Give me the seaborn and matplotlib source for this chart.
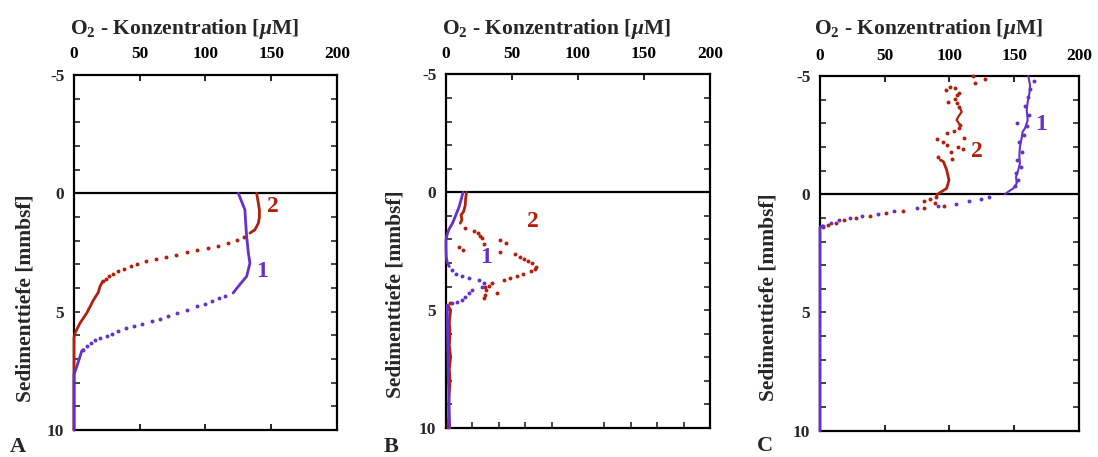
import glob
import numpy as np
import pandas as pd
import matplotlib
matplotlib.use("Agg")
import matplotlib.pyplot as plt
from matplotlib import font_manager as fm
import seaborn as sns

# ---------------- data (O2 concentration in µM vs. sediment depth in mm) ----------------
# Panel A
A2_line1_depth = [0, 0.35, 0.7, 1.0, 1.26, 1.54, 1.68]
A2_line1_conc = [138.9, 140, 141, 141, 140.2, 137.6, 133.8]
A2_dot_depth = [1.86, 1.99, 2.10, 2.22, 2.31, 2.38, 2.48, 2.59, 2.69, 2.78, 2.88, 2.99,
                3.09, 3.20, 3.30, 3.41, 3.51, 3.62, 3.72]
A2_dot_conc = [129.5, 123.7, 117.4, 109.7, 102.1, 93.8, 85.7, 77.6, 69.7, 62.1, 54.8, 48.2,
               43.1, 38.0, 33.7, 29.9, 26.9, 24.3, 21.8]
A2_line2_depth = [3.72, 3.93, 4.18, 4.52, 5.06, 5.48, 5.90, 6.1, 10]
A2_line2_conc = [21.8, 19.8, 18.5, 14.7, 9.7, 4.6, 0.8, 0, 0]

A1_line1_depth = [0, 0.35, 0.70, 1.2, 1.82, 2.52, 2.95, 3.51, 3.86, 4.21]
A1_line1_conc = [125, 127.5, 130, 130.5, 131.3, 132.6, 133.8, 131.3, 126, 121]
A1_dot_depth = [4.35, 4.42, 4.54, 4.66, 4.78, 4.92, 5.06, 5.20, 5.30, 5.41, 5.51, 5.59, 5.70,
                5.80, 5.93, 6.04, 6.11, 6.21, 6.32, 6.46, 6.60]
A1_dot_conc = [114.8, 110.5, 104.7, 99.6, 93.3, 85.7, 78.6, 71.7, 65.4, 59.1, 51.5, 45.6, 39.5,
               33.7, 28.7, 24.9, 19.8, 16.0, 12.7, 9.7, 7.1]
A1_line2_depth = [6.60, 6.67, 7.0, 7.3, 7.66, 10]
A1_line2_conc = [7.1, 5.8, 4.0, 2.2, 0, 0]

# Panel B
B2_line1_depth = [0, 0.3, 0.54, 0.82, 0.96, 1.17, 1.31]
B2_line1_conc = [15.5, 14.8, 14.6, 13.3, 11.4, 12.1, 10.8]
B2_dot_depth = [1.53, 1.63, 1.74, 1.84, 1.95, 2.21, 2.31, 2.45, 2.02, 2.14, 2.52, 2.62, 2.76,
                2.84, 2.91, 3.01, 3.15, 3.25, 3.32, 3.48, 3.55, 3.62, 3.72, 3.83, 3.97, 4.03,
                4.14, 4.26, 4.36, 4.50, 4.68]
B2_dot_conc = [14.6, 20.9, 24.2, 25.4, 27.2, 28.5, 10.1, 12.8, 41.1, 45.4, 41.1, 52.4, 56.2,
               59.2, 62.0, 65.1, 68.3, 67.6, 64.3, 58.7, 53.7, 48.6, 43.6, 34.8, 32.2, 29.7,
               30.5, 38.5, 29.7, 28.5, 3.3]
B2_line2_depth = [4.8, 5.0, 5.5, 6.0, 6.5, 7.0, 7.5, 8.0, 8.5, 9.0, 9.5, 10]
B2_line2_conc = [1.5, 3.5, 2.5, 3.0, 2.5, 3.5, 2.5, 3.0, 2.5, 2.0, 2.0, 1.5]

B1_line1_depth = [0, 0.3, 0.6, 1.03, 1.3, 1.60, 1.8, 2.02, 2.4, 2.74, 3.0, 3.15]
B1_line1_conc = [12.9, 11.5, 10.0, 7.0, 5.0, 2.0, 0.8, 0, 0, 0.2, 1.0, 2.5]
B1_dot_depth = [3.29, 3.46, 3.54, 3.62, 3.72, 3.86, 4.03, 4.14, 4.28, 4.43, 4.57, 4.64, 4.71]
B1_dot_conc = [4.5, 7.8, 12.1, 17.1, 24.7, 28.5, 27.2, 19.7, 17.1, 14.6, 12.1, 8.3, 4.5]
B1_line2_depth = [4.78, 5.0, 6.0, 7.0, 8.0, 9.0, 10.0]
B1_line2_conc = [0.8, 1.0, 1.2, 1.5, 1.8, 2.3, 2.8]

# Panel C
C2_dot_depth = [-5.0, -4.89, -4.69, -4.55, -4.50, -4.41, -4.29, -4.20, -4.01, -3.89, -3.84,
                -3.70, -2.93, -2.79, -2.69, -2.58, -2.39, -2.32, -2.22, -2.08, -2.01, -1.90,
                -1.80, -1.59, -1.49,
                0.10, 0.20, 0.29, 0.38, 0.50, 0.59, 0.70, 0.81, 0.91, 1.00, 1.10, 1.20, 1.30, 1.40]
C2_dot_conc = [118.4, 127.4, 119.7, 100.4, 104.0, 97.0, 107.6, 105.5, 104.2, 98.6, 105.5,
               107.6, 108.1, 107.6, 103.7, 97.8, 111.0, 90.1, 95.3, 97.8, 106.8, 110.1,
               100.8, 91.4, 102.2,
               89.3, 84.9, 80.3, 88.8, 95.8, 80.3, 64.3, 51.0, 38.6, 27.6, 18.8, 12.1, 6.4, 2.5]
C2_line1_depth = [-3.70, -3.49, -3.28, -3.14, -2.93]
C2_line1_conc = [107.6, 109.4, 106.8, 105.5, 108.1]
C2_line2_depth = [-1.45, -1.38, -1.03, -0.60, -0.25, -0.07, 0.03]
C2_line2_conc = [93.0, 95.3, 97.8, 99.6, 97.8, 92.7, 90.1]

C1_line1_depth = [-5.0, -4.62, -4.27, -3.91, -3.56, -3.14, -2.79, -2.65, -2.37, -2.01, -1.59,
                  -1.31, -1.03, -0.74, -0.46, -0.25, -0.11, -0.01]
C1_line1_conc = [160.8, 162.2, 161.7, 160.4, 159.6, 160.4, 158.3, 156.5, 155.7, 154.4, 153.9,
                 154.4, 153.1, 151.4, 151.9, 149.3, 145.4, 142.9]
C1_dot_depth = [-4.80, -4.45, -4.10, -3.75, -3.35, -3.03, -2.90, -2.50, -2.20, -1.80, -1.45,
                -1.15, -0.90, -0.60, -0.35,
                0.10, 0.20, 0.30, 0.40, 0.50, 0.59, 0.70, 0.82, 0.91, 1.00, 1.09, 1.20, 1.33]
C1_dot_conc = [165.5, 162.5, 161.0, 158.5, 161.5, 151.9, 160.0, 157.5, 154.0, 156.0, 152.5,
               155.5, 151.0, 153.0, 150.5,
               130.7, 124.1, 115.1, 104.8, 91.4, 74.7, 57.4, 44.6, 32.7, 23.2, 14.7, 8.5, 2.1]
C1_line2_depth = [1.33, 1.4, 10]
C1_line2_conc = [2.1, 0, 0]

# curve labels: (text, conc, depth)
A_labels = [("2", 151.3, 0.57), ("1", 143, 3.31)]
B_labels = [("2", 65.9, 1.25), ("1", 30.5, 2.77)]
C_labels = [("1", 170.7, -2.93), ("2", 121, -1.80)]

x_ticks = [0, 50, 100, 150, 200]
y_ticks = [-5, 0, 5, 10]
panel_letters = ["A", "B", "C"]

RED = "#B0200C"
PURPLE = "#6432C8"

# ---------------- fonts ----------------
for pattern in ["/usr/share/fonts/**/*Liberation*.ttf",
                "/usr/local/share/fonts/**/*Liberation*.ttf"]:
    for f in glob.glob(pattern, recursive=True):
        try:
            fm.fontManager.addfont(f)
        except Exception:
            pass

serif_name = "DejaVu Serif"
for name in ["Liberation Serif", "Times New Roman", "Nimbus Roman", "Tinos"]:
    try:
        fm.findfont(fm.FontProperties(family=name), fallback_to_default=False)
        serif_name = name
        break
    except Exception:
        continue

# ---------------- style ----------------
sns.set_theme(style="white")
plt.rcParams["font.family"] = [serif_name, "DejaVu Serif"]
plt.rcParams["font.weight"] = "bold"
plt.rcParams["axes.unicode_minus"] = False
plt.rcParams["mathtext.fontset"] = "custom"
plt.rcParams["mathtext.rm"] = serif_name + ":bold"
plt.rcParams["mathtext.it"] = serif_name + ":bold:italic"
plt.rcParams["mathtext.bf"] = serif_name + ":bold"
plt.rcParams["mathtext.default"] = "rm"

fig = plt.figure(figsize=(10.98, 4.57), dpi=100)
positions = [[0.0674, 0.0591, 0.2395, 0.7768],
             [0.4062, 0.0635, 0.2404, 0.7735],
             [0.7468, 0.0575, 0.2359, 0.7761]]
axes = [fig.add_axes(p) for p in positions]

LW = 2.0
DOT = 8


def line(ax, d, c, color, lw=LW):
    df = pd.DataFrame({"conc": c, "depth": d})
    sns.lineplot(data=df, x="conc", y="depth", sort=False, estimator=None, ax=ax,
                 color=color, lw=lw, legend=False, zorder=4, clip_on=False)


def dots(ax, d, c, color):
    df = pd.DataFrame({"conc": c, "depth": d})
    sns.scatterplot(data=df, x="conc", y="depth", ax=ax, color=color, s=DOT,
                    linewidth=0, legend=False, zorder=4, clip_on=False)


# Panel A
axA = axes[0]
line(axA, A2_line1_depth, A2_line1_conc, RED)
dots(axA, A2_dot_depth, A2_dot_conc, RED)
line(axA, A2_line2_depth, A2_line2_conc, RED)
line(axA, A1_line1_depth, A1_line1_conc, PURPLE)
dots(axA, A1_dot_depth, A1_dot_conc, PURPLE)
line(axA, A1_line2_depth, A1_line2_conc, PURPLE)

# Panel B
axB = axes[1]
line(axB, B2_line1_depth, B2_line1_conc, RED)
dots(axB, B2_dot_depth, B2_dot_conc, RED)
line(axB, B2_line2_depth, B2_line2_conc, RED)
line(axB, B1_line1_depth, B1_line1_conc, PURPLE)
dots(axB, B1_dot_depth, B1_dot_conc, PURPLE)
line(axB, B1_line2_depth, B1_line2_conc, PURPLE)

# Panel C
axC = axes[2]
dots(axC, C2_dot_depth, C2_dot_conc, RED)
line(axC, C2_line1_depth, C2_line1_conc, RED, lw=1.6)
line(axC, C2_line2_depth, C2_line2_conc, RED)
line(axC, C1_line1_depth, C1_line1_conc, PURPLE, lw=1.5)
dots(axC, C1_dot_depth, C1_dot_conc, PURPLE)
line(axC, C1_line2_depth, C1_line2_conc, PURPLE)

label_sets = [A_labels, B_labels, C_labels]
title_y = [1.115, 1.1146, 1.118]
ylab_pos = [(-0.186, 0.372), (-0.193, 0.379), (-0.197, 0.377)]
letter_pos = [(18 / 1098, 1 - 447 / 457), (391 / 1098, 1 - 447 / 457), (765 / 1098, 1 - 446 / 457)]

for i, ax in enumerate(axes):
    ax.set_xlim(0, 200)
    ax.set_ylim(10, -5)
    ax.axhline(0, color="black", lw=1.6, zorder=1)
    ax.set_xlabel("")
    ax.set_ylabel("")
    for sp in ax.spines.values():
        sp.set_visible(True)
        sp.set_color("black")
        sp.set_linewidth(1.6)
    ax.set_xticks(x_ticks)
    ax.set_xticklabels([str(t) for t in x_ticks])
    ax.set_yticks(y_ticks)
    ax.set_yticklabels([str(t) for t in y_ticks])
    ax.set_yticks(np.arange(-5, 11, 1), minor=True)
    ax.tick_params(axis="x", which="major", direction="in", top=True, bottom=True,
                   labeltop=True, labelbottom=False, length=4, width=1.2, pad=9,
                   labelsize=12.5, colors="black")
    ax.tick_params(axis="y", which="both", direction="in", left=True, right=True,
                   length=4, width=1.2, pad=7, labelsize=12.5)
    for t in ax.get_xticklabels() + ax.get_yticklabels():
        t.set_fontweight("bold")
    ax.grid(False)
    ax.text(0.42, title_y[i], r"O$_2$ - Konzentration [$\mathit{\mu}$M]",
            transform=ax.transAxes, ha="center", va="baseline", fontsize=15.5,
            fontweight="bold")
    ax.text(ylab_pos[i][0], ylab_pos[i][1], "Sedimenttiefe [mmbsf]", rotation=90,
            transform=ax.transAxes, ha="center", va="center", fontsize=15.5,
            fontweight="bold")
    for txt, xv, yv in label_sets[i]:
        ax.text(xv, yv, txt, color=RED if txt == "2" else PURPLE, fontsize=17,
                fontweight="bold", ha="center", va="center")
    fig.text(letter_pos[i][0], letter_pos[i][1], panel_letters[i], fontsize=16,
             fontweight="bold", ha="center", va="center")

# Panel B: bottom ticks every 20
axB.tick_params(axis="x", which="major", bottom=False)
axB.set_xticks(np.arange(20, 200, 20), minor=True)
axB.tick_params(axis="x", which="minor", direction="in", bottom=True, top=False,
                length=4, width=1.2)

fig.savefig("out.png", dpi=100)
